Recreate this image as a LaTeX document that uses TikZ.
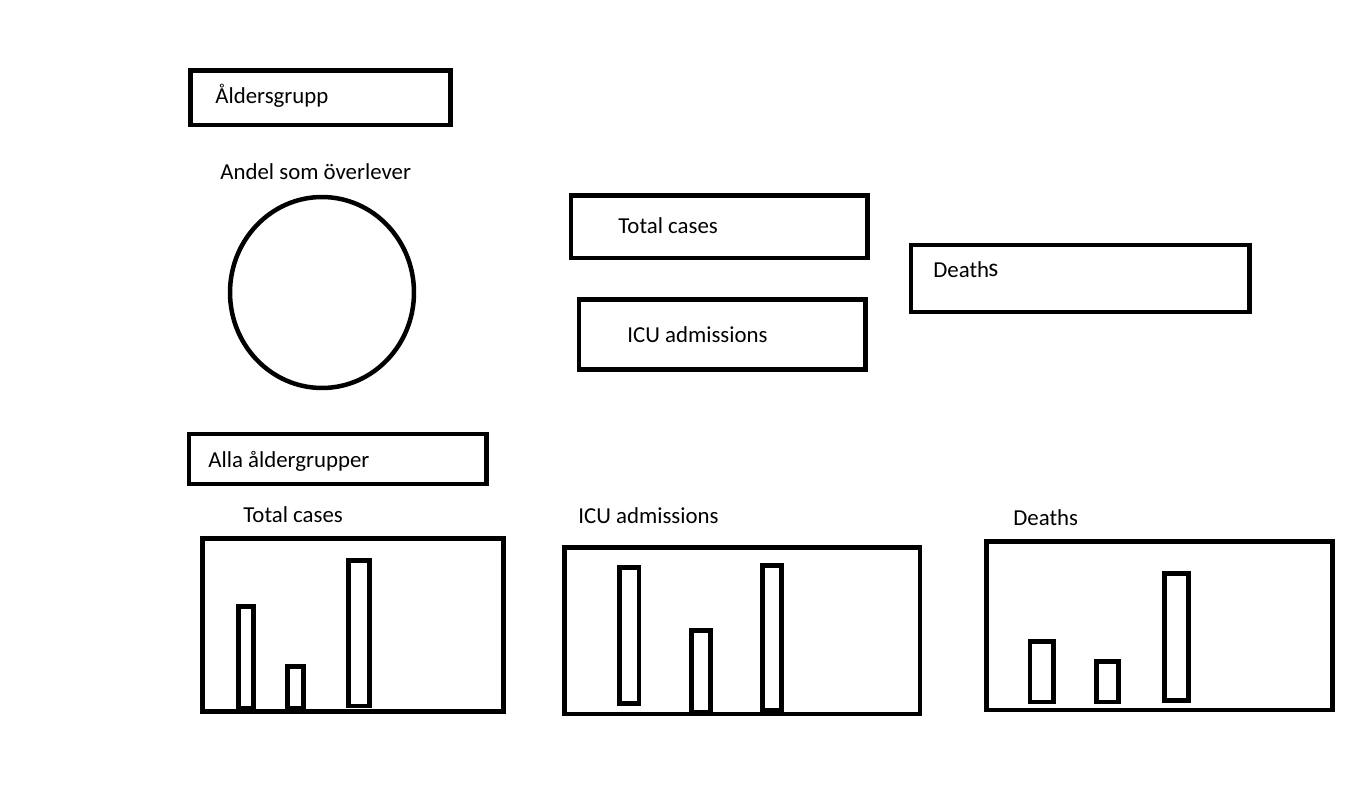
\documentclass[tikz,border=0pt]{standalone}
\usepackage{fontspec}
\setmainfont{Carlito}
\usetikzlibrary{shapes.geometric}

\begin{document}
\begin{tikzpicture}[x=0.02cm, y=-0.02cm,
      box/.style={draw=black, line width=0.09cm, inner sep=0pt},
      txt/.style={anchor=base west, inner sep=0pt, font=\fontsize{13}{15}\selectfont},
      bar/.style={draw=black, line width=0.09cm}]

    \useasboundingbox (0,0) rectangle (1369,800);

    % age group selection
    \node[box, minimum width=5.2cm, minimum height=1.09cm] (agebox) at (320.5, 97.75) {};
    \node[txt] (agetxt) at (215, 104) {Åldersgrupp};

    \node[txt] (survtxt) at (220, 180) {Andel som överlever};
    \node[box, ellipse, minimum width=3.68cm, minimum height=3.82cm] (survpie) at (322, 292.5) {};

    \node[box, minimum width=5.93cm, minimum height=1.25cm] (totbox) at (719.25, 226.75) {};
    \node[txt] (tottxt) at (618, 234) {Total cases};
    \node[box, minimum width=5.73cm, minimum height=1.4cm] (icubox) at (722.25, 334.5) {};
    \node[txt] (icutxt) at (627, 343) {ICU admissions};
    \node[box, minimum width=6.77cm, minimum height=1.34cm] (deathbox) at (1080.25, 278.5) {};
    \node[txt] (deathtxt) at (933, 278) {Death\kern-0.5pt\raisebox{0.03cm}{\fontsize{14.5}{15}\selectfont s}};

    % all age groups
    \node[box, minimum width=5.95cm, minimum height=1.0cm] (allbox) at (337.75, 459) {};
    \node[txt] (alltxt) at (208, 467) {Alla åldergrupper};

    \node[txt] (chtot) at (243, 522) {Total cases};
    \node[txt] (chicu) at (578, 523) {ICU admissions};
    \node[txt] (chdeath) at (1013, 525) {Deaths};

    \node[box, minimum width=6.02cm, minimum height=3.46cm] (totchart) at (353, 625) {};
    \node[box, minimum width=7.11cm, minimum height=3.33cm] (icuchart) at (742.25, 630.75) {};
    \node[box, minimum width=6.92cm, minimum height=3.37cm] (deathchart) at (1159.5, 625.85) {};

    \foreach \xa/\xb/\ya/\yb in {238.5/253.5/606.5/708, 287.5/303.5/666.5/708, 348.5/369.5/560.5/706,
        619.5/639/567.5/703.5, 691.5/710.5/630.5/712, 762.5/781.5/565.5/710,
        1030/1053.5/641.5/702, 1096.5/1118.5/661.5/702, 1164.5/1188.5/573.5/700.5}
      \draw[bar] (\xa,\ya) rectangle (\xb,\yb);
  \end{tikzpicture}
\end{document}
